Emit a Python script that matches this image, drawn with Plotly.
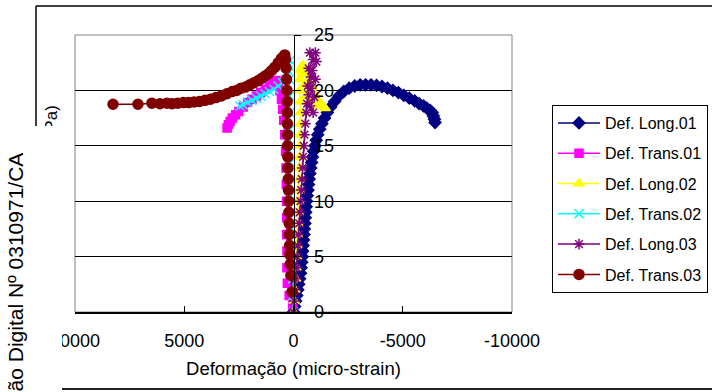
import plotly.graph_objects as go

W, H = 712, 392

# ---------------- data (strain in micro-strain, stress in MPa) ----------------
long01_x = [0, -50, -100, -150, -200, -240, -280, -320, -350, -380, -400, -420, -440, -460, -480,
            -500, -520, -540, -560, -580, -600, -630, -660, -690, -720, -750, -790, -830, -870,
            -920, -980, -1040, -1110, -1200, -1300, -1420, -1550, -1700, -1880, -2080, -2300,
            -2550, -2800, -3050, -3300, -3550, -3800, -4050, -4300, -4550, -4800, -5050, -5300,
            -5550, -5750, -5950, -6100, -6250, -6350, -6400, -6450, -6480]
long01_y = [0, 0.5, 1, 1.5, 2, 2.5, 3, 3.5, 4, 4.5, 5, 5.5, 6, 6.5, 7,
            7.5, 8, 8.5, 9, 9.5, 10, 10.5, 11, 11.5, 12, 12.5, 13, 13.5, 14,
            14.5, 15, 15.5, 16, 16.5, 17, 17.5, 18, 18.5, 19, 19.5, 19.9,
            20.2, 20.4, 20.5, 20.5, 20.5, 20.45, 20.35, 20.2, 20.0, 19.8, 19.55, 19.3,
            19.05, 18.8, 18.6, 18.4, 18.2, 18.0, 17.7, 17.4, 17.1]

trans01_x = [40, 200, 280, 300, 300, 310, 310, 320, 330, 340, 360, 400, 450, 500, 550, 620, 700,
             800, 950, 1100, 1300, 1500, 1700, 1900, 2100, 2300, 2500, 2650, 2800, 2900, 2980, 3040]
trans01_y = [0.6, 1.5, 2.6, 4, 5.5, 7, 8.5, 10, 11.5, 13, 14.5, 16, 17.3, 18.3, 19.2, 20, 20.6,
             20.9, 20.7, 20.4, 20.1, 19.8, 19.5, 19.2, 18.9, 18.5, 18.1, 17.8, 17.5, 17.2, 16.9, 16.6]

long02_x = [0, -30, -60, -90, -110, -130, -150, -170, -190, -210, -230, -250, -260, -270, -280,
            -290, -300, -310, -320, -300, -280, -280, -330, -430, -550, -700, -850, -1000, -1150,
            -1300, -1450, -1100, -800, -600, -500, -400, -350]
long02_y = [0, 1, 2, 3, 4, 5, 6, 7, 8, 9, 10, 11, 12, 13, 14,
            15, 16, 17, 18, 19, 20, 21, 21.8, 22.3, 21.8, 21, 20.3, 19.6, 19.1,
            18.7, 18.4, 18.6, 19.0, 19.5, 20.5, 21.5, 22.0]

trans02_x = [0, 20, 40, 60, 80, 100, 110, 120, 130, 140, 150, 160, 170, 180, 190, 200, 150,
             250, 350, 500, 700, 900, 1100, 1300, 1500, 1700, 1900, 2100, 2300, 2450]
trans02_y = [0, 1.5, 3, 4.5, 6, 7.5, 9, 10.5, 12, 13.5, 15, 16.5, 18, 19.5, 21, 22.2, 22.7,
             21.8, 21.0, 20.7, 20.4, 20.1, 19.9, 19.7, 19.5, 19.3, 19.1, 18.9, 18.7, 18.6]

long03_x = [0, -40, -80, -110, -140, -170, -200, -230, -260, -290, -320, -350, -380, -410, -440,
            -470, -500, -540, -580, -620, -700, -650, -800, -700, -900, -750, -1000, -1050, -850,
            -1000, -800, -950, -750, -900]
long03_y = [0, 1, 2, 3, 4, 5, 6, 7, 8, 9, 10, 11, 12, 13, 14,
            15, 16, 17, 18, 18.8, 19.6, 20.4, 21.2, 22, 22.8, 23.4, 23.4, 22.6, 21.8,
            21, 20.2, 19.4, 18.6, 18]

trans03_x = [70, 120, 150, 170, 180, 190, 200, 210, 220, 230, 240, 250, 260, 270, 275, 280, 285,
             290, 300, 320, 340, 370, 400, 550, 700, 850, 1000, 1150, 1300, 1450, 1600, 1800,
             2000, 2200, 2400, 2600, 2800, 3050, 3300, 3550, 3800, 4050, 4300, 4550, 4800, 5050,
             5300, 5560, 5790, 6110, 6480, 7120, 8260]
trans03_y = [1.8, 3.3, 4.3, 5.2, 6, 7, 8, 9, 10, 11, 12, 13, 14, 15, 16, 17, 18,
             19, 20, 21, 22, 22.8, 23.2, 22.9, 22.5, 22.1, 21.8, 21.5, 21.3, 21.1, 20.9, 20.7,
             20.5, 20.3, 20.2, 20.0, 19.9, 19.7, 19.5, 19.35, 19.2, 19.1, 19.0, 18.95, 18.9, 18.9,
             18.85, 18.8, 18.85, 18.8, 18.85, 18.75, 18.75]

series_names = ["Def. Long.01", "Def. Trans.01", "Def. Long.02",
                "Def. Trans.02", "Def. Long.03", "Def. Trans.03"]
x_ticks = [10000, 5000, 0, -5000, -10000]
y_ticks = [0, 5, 10, 15, 20, 25]

# ---------------- styling ----------------
FONT = "Liberation Sans, Arial, sans-serif"
styles = [
    dict(color="#000080", symbol="diamond", size=9),
    dict(color="#FF00FF", symbol="square", size=8),
    dict(color="#FFFF00", symbol="triangle-up", size=9),
    dict(color="#00FFFF", symbol="x-thin", size=9),
    dict(color="#800080", symbol="asterisk", size=9),
    dict(color="#800000", symbol="circle", size=10),
]
xs = [long01_x, trans01_x, long02_x, trans02_x, long03_x, trans03_x]
ys = [long01_y, trans01_y, long02_y, trans02_y, long03_y, trans03_y]


def px(x):
    return x / W


def py(y):
    return 1 - y / H


fig = go.Figure()
for i, (name, x, y, st) in enumerate(zip(series_names, xs, ys, styles)):
    fig.add_trace(go.Scatter(
        x=x, y=y, name=name, mode="lines+markers", legendgroup=f"g{i}",
        line=dict(color=st["color"], width=1.5),
        marker=dict(symbol=st["symbol"], size=st["size"], color=st["color"],
                    line=dict(color=st["color"], width=1.5)),
    ))

PLOT_L, PLOT_R, PLOT_T, PLOT_B = 75, 512, 35, 312
fig.update_layout(
    width=W, height=H,
    margin=dict(l=0, r=0, t=0, b=0, pad=0, autoexpand=False),
    paper_bgcolor="white", plot_bgcolor="white",
    font=dict(family=FONT, color="black", size=18),
    showlegend=True,
    legend=dict(x=px(552), y=py(105), xanchor="left", yanchor="top",
                bordercolor="black", borderwidth=1, bgcolor="white",
                font=dict(size=16, family=FONT), tracegroupgap=6.5,
                itemwidth=42, traceorder="grouped"),
    xaxis=dict(domain=[px(PLOT_L), px(PLOT_R)], range=[10000, -10000],
               tickvals=x_ticks, ticktext=[str(v) for v in x_ticks],
               ticks="inside", ticklen=6, tickcolor="black", tickwidth=1,
               showline=True, linecolor="black", linewidth=1.5,
               showgrid=False, zeroline=False, automargin=False,
               tickfont=dict(size=18), ticklabelstandoff=12,
               title=dict(text="Deformação (micro-strain)", font=dict(size=18.5), standoff=12)),
    yaxis=dict(domain=[py(PLOT_B), py(PLOT_T)], range=[0, 25],
               anchor="free", position=px(293.5), side="right",
               tickvals=y_ticks, ticks="outside", ticklen=6, tickcolor="black",
               showline=True, linecolor="black", linewidth=1,
               showgrid=True, gridcolor="black", gridwidth=1, zeroline=False,
               automargin=False,
               tickfont=dict(size=18), ticklabelstandoff=10),
)

BOX_TOP = 126
# plot-area border (grey)
fig.add_shape(type="rect", xref="paper", yref="paper",
              x0=px(PLOT_L), x1=px(PLOT_R), y0=py(PLOT_B), y1=py(PLOT_T),
              line=dict(color="#808080", width=1), fillcolor="rgba(0,0,0,0)", layer="between")
# outer chart frame (top, left, bottom)
fig.add_shape(type="line", xref="paper", yref="paper", x0=px(36), x1=1, y0=py(6), y1=py(6),
              line=dict(color="black", width=1.5))
fig.add_shape(type="line", xref="paper", yref="paper", x0=px(36), x1=px(36), y0=py(6), y1=py(200),
              line=dict(color="black", width=1.5))
fig.add_shape(type="line", xref="paper", yref="paper", x0=0, x1=1, y0=py(389), y1=py(389),
              line=dict(color="#222222", width=2))

# y-axis title (mostly hidden behind the page watermark strip)
fig.add_annotation(text="Tensão (MPa)", xref="paper", yref="paper",
                   x=px(51), y=py(103), xanchor="center", yanchor="top",
                   textangle=-90, showarrow=False, font=dict(size=17, family=FONT))
# page watermark strip: plain white box ...
fig.add_annotation(text=" ", xref="paper", yref="paper",
                   x=0, y=py(BOX_TOP), xanchor="left", yanchor="top",
                   width=62, height=H - BOX_TOP + 10, bgcolor="white",
                   borderpad=0, borderwidth=0, showarrow=False)
# ... and its rotated text (centre-anchored so rotation is symmetric)
fig.add_annotation(text="Certificação Digital Nº 0310971/CA", xref="paper", yref="paper",
                   x=px(15), y=py(316), xanchor="center", yanchor="middle",
                   textangle=-90, showarrow=False, borderpad=0,
                   font=dict(size=21, family=FONT))

fig.write_html("out.html")
